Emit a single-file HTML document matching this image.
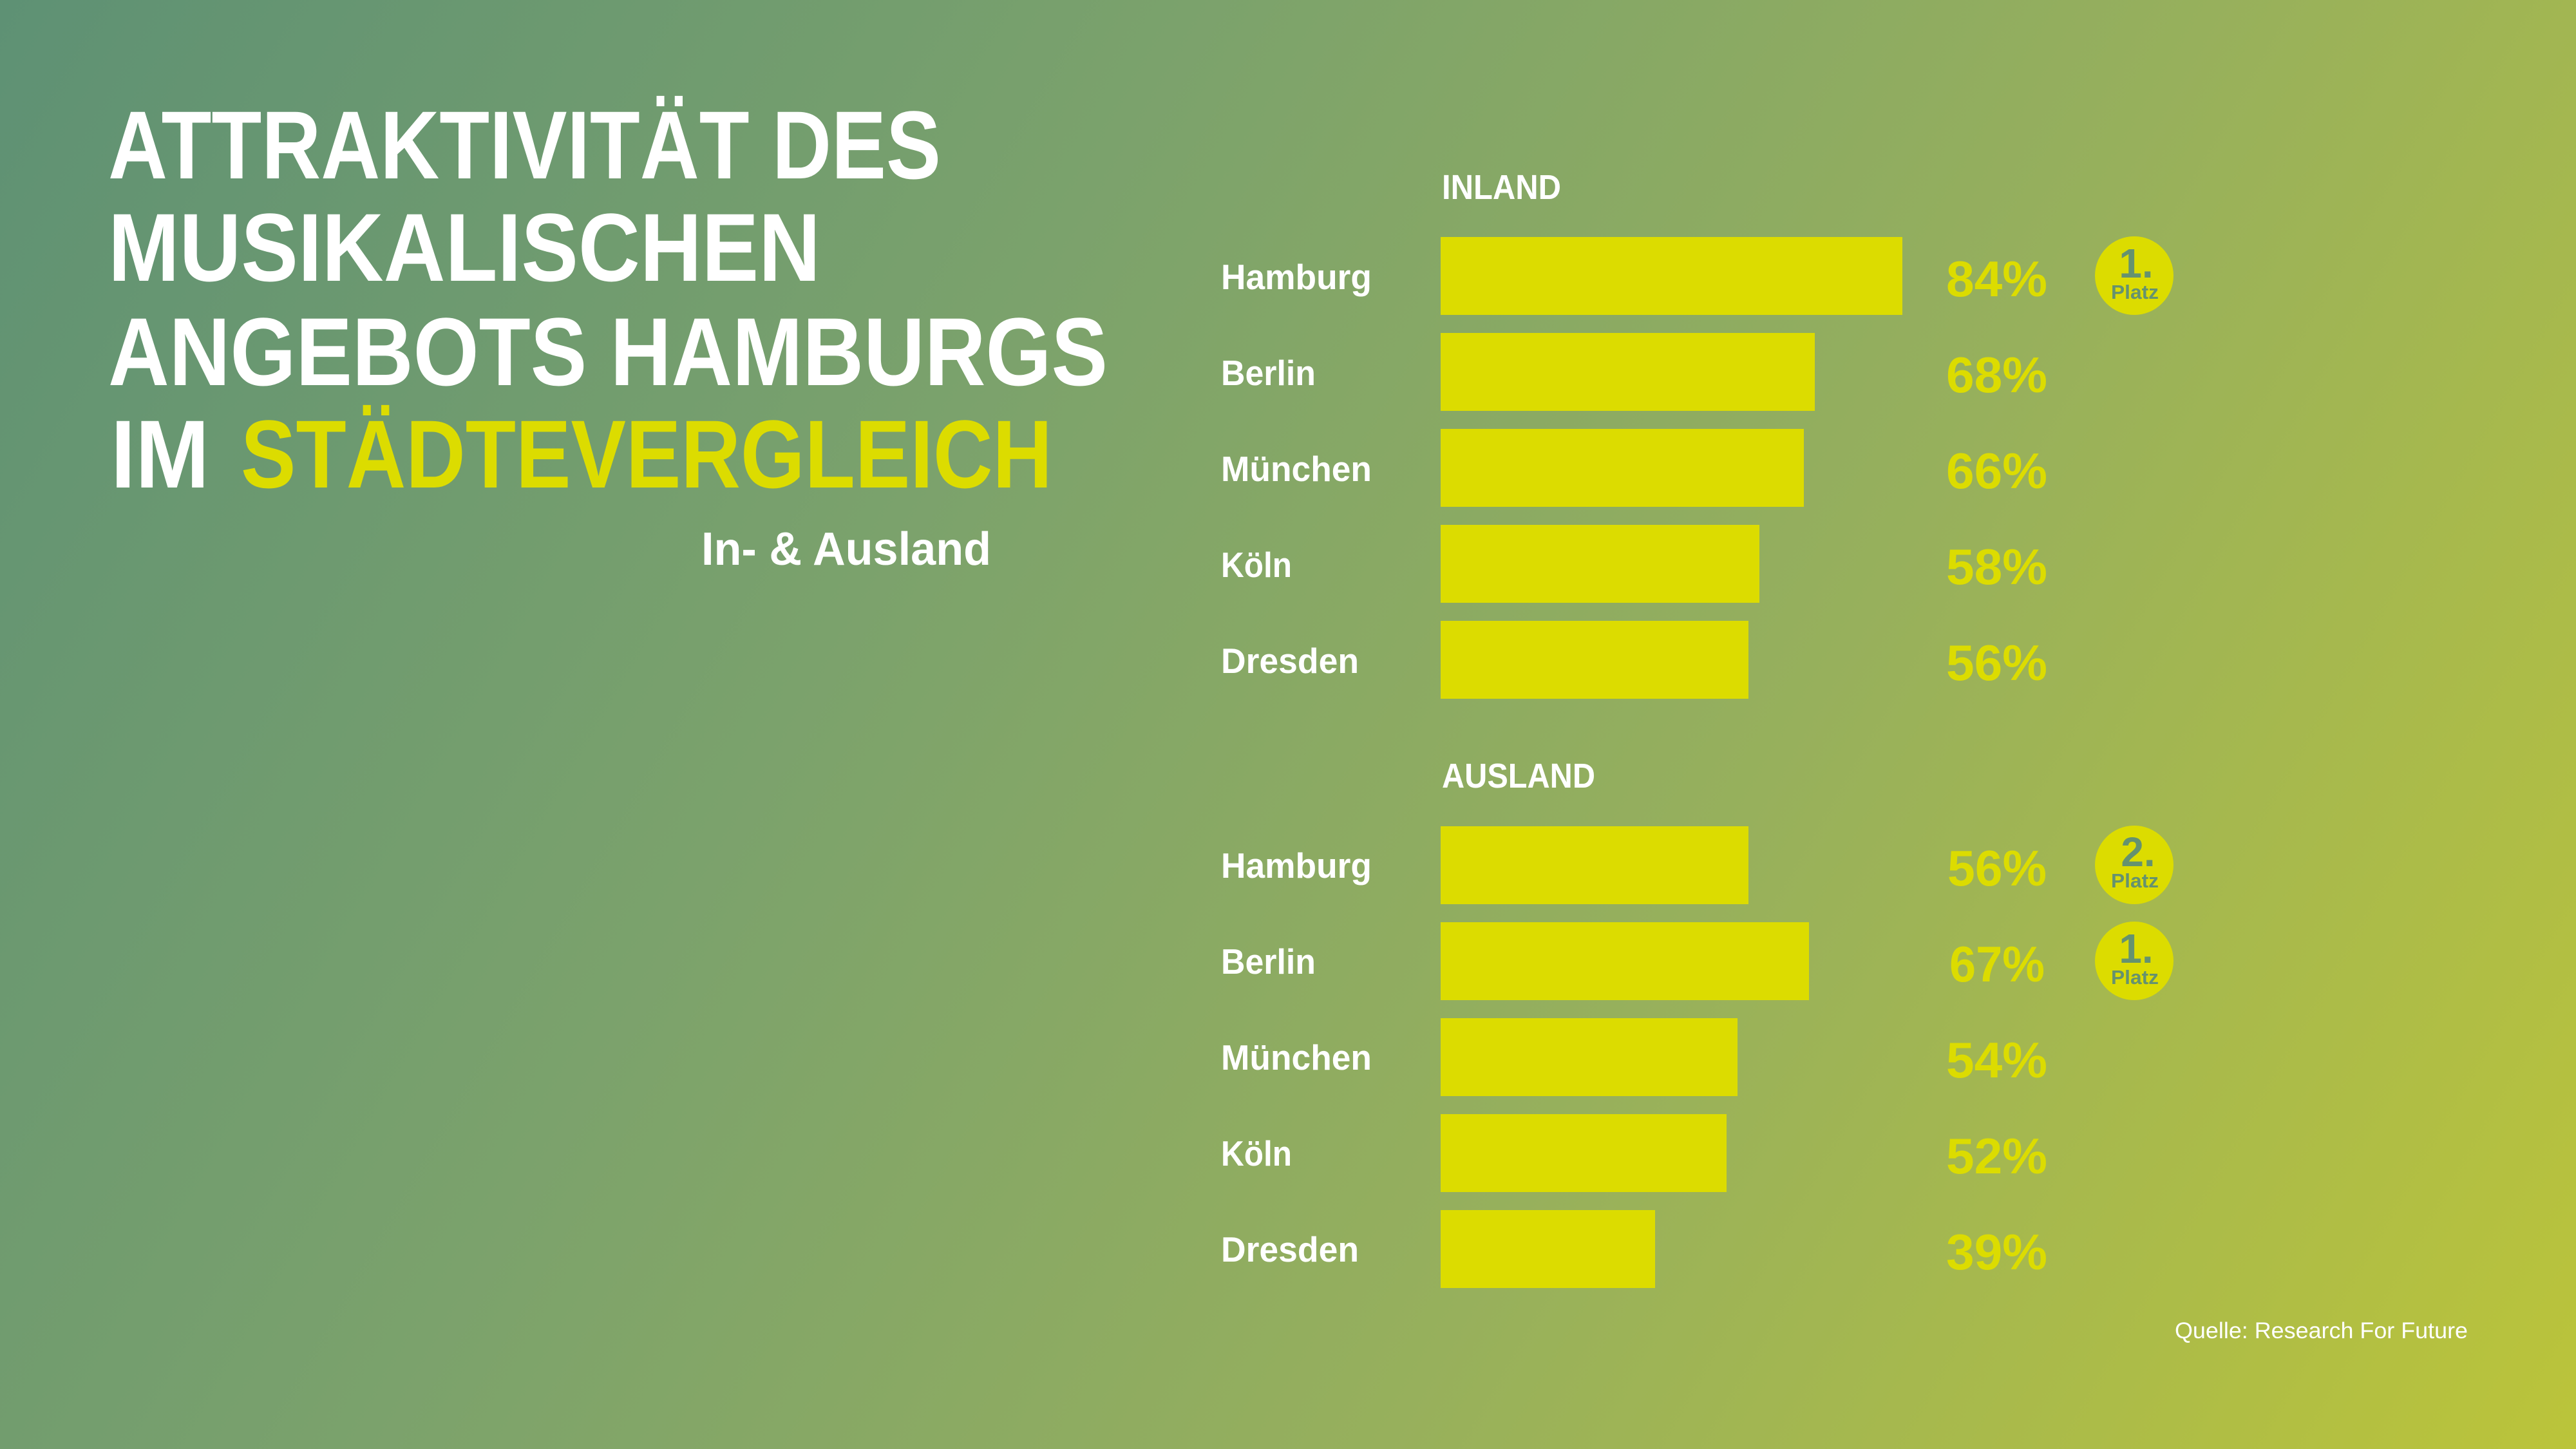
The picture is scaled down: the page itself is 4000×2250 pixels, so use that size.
<!DOCTYPE html>
<html>
<head>
<meta charset="utf-8">
<style>
html,body{margin:0;padding:0;}
body{width:4000px;height:2250px;overflow:hidden;background:linear-gradient(120deg,#5e9174 0%,#7ba26c 35%,#97b05c 65%,#bbc43a 100%);}
svg{display:block;}
text{font-family:"Liberation Sans",sans-serif;}
</style>
</head>
<body>
<svg width="4000" height="2250" viewBox="0 0 4000 2250" xmlns="http://www.w3.org/2000/svg">
  <!-- Title -->
  <g font-weight="bold" font-size="150" fill="#ffffff">
    <text x="168" y="277" textLength="1293" lengthAdjust="spacingAndGlyphs">ATTRAKTIVITÄT DES</text>
    <text x="168" y="436" textLength="1106" lengthAdjust="spacingAndGlyphs">MUSIKALISCHEN</text>
    <text x="168" y="598" textLength="1552" lengthAdjust="spacingAndGlyphs">ANGEBOTS HAMBURGS</text>
    <text x="172" y="757" textLength="153" lengthAdjust="spacingAndGlyphs">IM</text>
    <text x="374" y="757" textLength="1260" lengthAdjust="spacingAndGlyphs" fill="#dcdc00">STÄDTEVERGLEICH</text>
  </g>
  <text x="1089" y="877" font-weight="bold" font-size="72" fill="#ffffff" textLength="450" lengthAdjust="spacingAndGlyphs">In- &amp; Ausland</text>

  <!-- Section headings -->
  <text x="2239" y="309" font-weight="bold" font-size="54" fill="#ffffff" textLength="185" lengthAdjust="spacingAndGlyphs">INLAND</text>
  <text x="2239" y="1223" font-weight="bold" font-size="54" fill="#ffffff" textLength="238" lengthAdjust="spacingAndGlyphs">AUSLAND</text>

  <!-- Inland -->
  <g fill="#dcdc00">
    <rect x="2237" y="368" width="717" height="121"/>
    <rect x="2237" y="517" width="581" height="121"/>
    <rect x="2237" y="666" width="564" height="121"/>
    <rect x="2237" y="815" width="495" height="121"/>
    <rect x="2237" y="964" width="478" height="121"/>
    <rect x="2237" y="1283" width="478" height="121"/>
    <rect x="2237" y="1432" width="572" height="121"/>
    <rect x="2237" y="1581" width="461" height="121"/>
    <rect x="2237" y="1730" width="444" height="121"/>
    <rect x="2237" y="1879" width="333" height="121"/>
  </g>

  <g font-weight="bold" font-size="55" fill="#ffffff">
    <text x="1896" y="449" textLength="234" lengthAdjust="spacingAndGlyphs">Hamburg</text>
    <text x="1896" y="598" textLength="147" lengthAdjust="spacingAndGlyphs">Berlin</text>
    <text x="1896" y="747" textLength="234" lengthAdjust="spacingAndGlyphs">München</text>
    <text x="1896" y="896" textLength="110" lengthAdjust="spacingAndGlyphs">Köln</text>
    <text x="1896" y="1045" textLength="214" lengthAdjust="spacingAndGlyphs">Dresden</text>

    <text x="1896" y="1363" textLength="234" lengthAdjust="spacingAndGlyphs">Hamburg</text>
    <text x="1896" y="1512" textLength="147" lengthAdjust="spacingAndGlyphs">Berlin</text>
    <text x="1896" y="1661" textLength="234" lengthAdjust="spacingAndGlyphs">München</text>
    <text x="1896" y="1810" textLength="110" lengthAdjust="spacingAndGlyphs">Köln</text>
    <text x="1896" y="1959" textLength="214" lengthAdjust="spacingAndGlyphs">Dresden</text>
  </g>

  <g font-weight="bold" font-size="78" fill="#dcdc00">
    <text x="3022" y="460" textLength="157" lengthAdjust="spacingAndGlyphs">84%</text>
    <text x="3022" y="609" textLength="157" lengthAdjust="spacingAndGlyphs">68%</text>
    <text x="3022" y="758" textLength="157" lengthAdjust="spacingAndGlyphs">66%</text>
    <text x="3022" y="907" textLength="157" lengthAdjust="spacingAndGlyphs">58%</text>
    <text x="3022" y="1056" textLength="157" lengthAdjust="spacingAndGlyphs">56%</text>

    <text x="3024" y="1375" textLength="154" lengthAdjust="spacingAndGlyphs">56%</text>
    <text x="3027" y="1524" textLength="148" lengthAdjust="spacingAndGlyphs">67%</text>
    <text x="3022" y="1673" textLength="157" lengthAdjust="spacingAndGlyphs">54%</text>
    <text x="3022" y="1822" textLength="157" lengthAdjust="spacingAndGlyphs">52%</text>
    <text x="3022" y="1971" textLength="157" lengthAdjust="spacingAndGlyphs">39%</text>
  </g>

  <!-- Badges -->
  <g>
    <circle cx="3314" cy="428" r="61" fill="#dcdc00"/>
    <text x="3317" y="431" text-anchor="middle" font-weight="bold" font-size="64" fill="#65926f">1.</text>
    <text x="3315" y="464" text-anchor="middle" font-weight="bold" font-size="31" fill="#65926f" textLength="74" lengthAdjust="spacingAndGlyphs">Platz</text>

    <circle cx="3314" cy="1343" r="61" fill="#dcdc00"/>
    <text x="3320" y="1345" text-anchor="middle" font-weight="bold" font-size="64" fill="#65926f">2.</text>
    <text x="3315" y="1378" text-anchor="middle" font-weight="bold" font-size="31" fill="#65926f" textLength="74" lengthAdjust="spacingAndGlyphs">Platz</text>

    <circle cx="3314" cy="1492" r="61" fill="#dcdc00"/>
    <text x="3317" y="1495" text-anchor="middle" font-weight="bold" font-size="64" fill="#65926f">1.</text>
    <text x="3315" y="1528" text-anchor="middle" font-weight="bold" font-size="31" fill="#65926f" textLength="74" lengthAdjust="spacingAndGlyphs">Platz</text>
  </g>

  <!-- Source -->
  <text x="3377" y="2078" font-size="35" fill="#ffffff" textLength="455" lengthAdjust="spacingAndGlyphs">Quelle: Research For Future</text>
</svg>
</body>
</html>
